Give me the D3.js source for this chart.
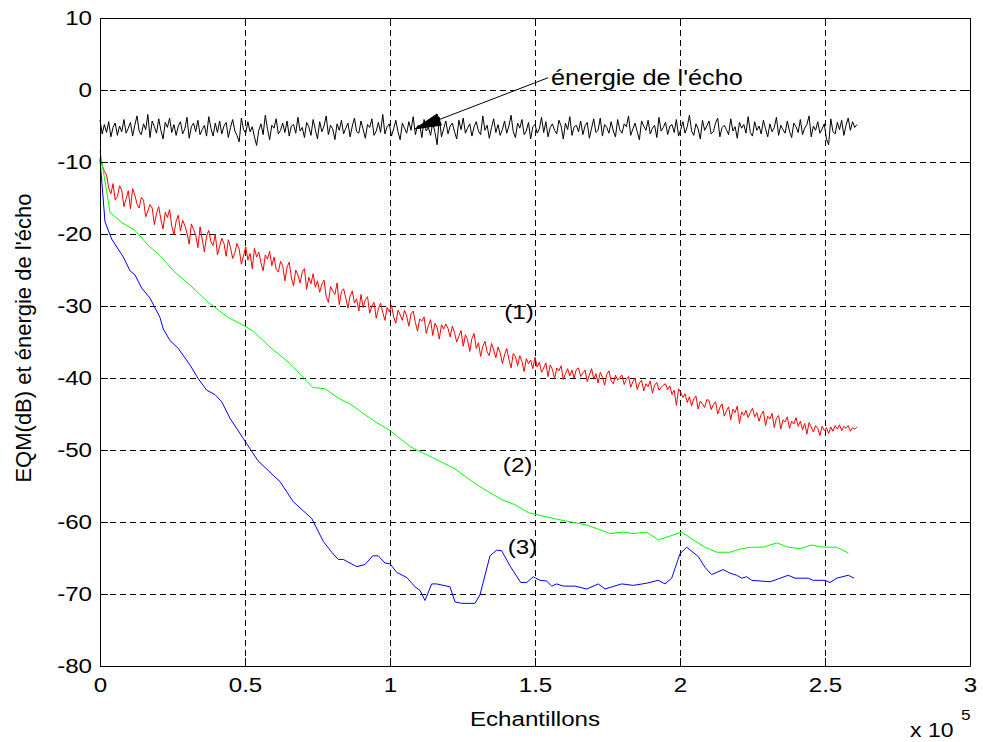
<!DOCTYPE html>
<html>
<head>
<meta charset="utf-8">
<script src="https://cdn.jsdelivr.net/npm/d3@7"></script>
<style>
  html, body { margin: 0; padding: 0; background: #fff; }
  svg text { font-family: "Liberation Sans", Arial, sans-serif; fill: #000; }
</style>
</head>
<body>
<svg id="chart" width="983" height="742"></svg>
<script>
// ---- axes ----
const xTickVals = [0, 50000, 100000, 150000, 200000, 250000, 300000];
const xTickLabels = ['0', '0.5', '1', '1.5', '2', '2.5', '3'];
const yTickVals = [10, 0, -10, -20, -30, -40, -50, -60, -70, -80];
const yTickLabels = ['10', '0', '-10', '-20', '-30', '-40', '-50', '-60', '-70', '-80'];

// ---- echo energy (black), one value every noiseStep samples ----
const noiseStep = 750;
const echoEnergy = [
  -4.2,-6.1,-4.8,-5.9,-4.4,-6.5,-5.2,-4.6,-6.3,-5.0,-5.8,-4.1,-6.0,-5.3,-4.5,-6.4,-4.9,-3.6,-5.7,-6.2,
  -4.7,-5.5,-3.4,-6.6,-4.3,-5.1,-6.0,-4.0,-5.6,-6.8,-4.5,-5.2,-3.9,-5.9,-4.8,-6.3,-5.0,-4.4,-6.1,-5.4,
  -3.8,-6.7,-5.1,-4.6,-5.8,-4.2,-6.2,-5.5,-4.9,-6.4,-3.7,-5.3,-6.4,-4.6,-5.9,-4.3,-6.1,-5.0,-4.5,-6.6,
  -5.2,-4.1,-5.7,-6.3,-7.2,-3.9,-5.5,-6.0,-4.4,-5.8,-5.1,-6.5,-7.7,-5.6,-4.7,-6.2,-3.5,-5.4,-6.9,-4.9,
  -5.3,-4.0,-6.1,-5.6,-4.6,-5.9,-4.3,-6.4,-5.0,-4.8,-6.0,-3.8,-5.7,-5.2,-6.6,-4.5,-5.1,-6.3,-4.1,-5.5,
  -6.8,-4.4,-5.8,-5.0,-3.6,-6.2,-4.9,-5.4,-6.9,-4.7,-5.6,-4.2,-6.1,-5.3,-4.6,-6.5,-5.0,-3.9,-5.8,-6.0,
  -4.3,-5.5,-6.7,-4.8,-5.2,-4.0,-6.3,-5.7,-4.5,-5.9,-3.4,-6.1,-5.1,-4.7,-6.4,-5.4,-4.2,-5.8,-6.9,-4.6,
  -5.3,-6.0,-4.4,-5.6,-3.7,-6.2,-5.0,-4.9,-6.6,-4.1,-5.7,-5.2,-6.3,-4.5,-5.9,-7.6,-3.8,-6.5,-5.4,-4.3,
  -6.1,-5.0,-4.6,-5.8,-6.8,-4.2,-5.5,-3.9,-6.0,-5.3,-4.7,-6.4,-5.1,-4.4,-5.7,-6.2,-3.6,-5.6,-4.9,-6.7,
  -5.2,-4.0,-5.9,-4.8,-6.3,-5.5,-4.3,-6.0,-5.0,-3.5,-5.8,-6.6,-4.6,-5.3,-4.1,-6.2,-5.7,-4.5,-6.8,-5.1,
  -4.8,-6.0,-5.4,-3.8,-5.9,-4.4,-6.5,-5.2,-4.7,-5.6,-6.1,-4.2,-5.0,-6.8,-4.6,-5.5,-3.7,-6.3,-5.1,-4.9,
  -5.8,-4.3,-6.2,-5.0,-4.5,-6.7,-5.3,-4.0,-5.9,-5.6,-3.9,-6.4,-4.8,-5.2,-6.0,-4.4,-5.7,-6.5,-4.1,-5.5,
  -6.0,-4.7,-5.1,-3.6,-6.3,-5.4,-4.6,-5.8,-6.9,-4.3,-5.0,-5.6,-4.2,-6.1,-5.3,-4.9,-6.6,-3.8,-5.7,-5.2,
  -4.5,-6.2,-5.0,-4.8,-5.9,-4.1,-6.4,-5.5,-4.4,-6.0,-5.1,-3.5,-5.7,-6.3,-4.7,-5.4,-6.8,-4.2,-5.6,-5.0,
  -4.3,-6.1,-5.8,-4.6,-3.9,-6.5,-5.2,-4.9,-5.5,-6.2,-4.0,-5.7,-5.1,-6.7,-4.5,-5.3,-4.8,-6.0,-3.7,-5.9,
  -6.4,-4.4,-5.6,-5.0,-6.1,-4.2,-5.4,-6.5,-4.7,-5.8,-5.2,-3.8,-6.3,-4.9,-5.5,-6.0,-4.3,-5.7,-6.6,-4.6,
  -5.1,-5.9,-4.1,-6.2,-5.3,-4.8,-3.6,-6.5,-5.0,-5.6,-4.4,-6.0,-5.4,-4.7,-6.8,-7.6,-4.0,-5.8,-6.1,-4.5,
  -5.5,-4.2,-6.3,-4.9,-3.9,-5.6,-4.4,-5.2,-4.8
];

// ---- MSE of algorithm (1) (red), same sampling ----
const mse1 = [
  -9.4,-10.5,-11.3,-11.8,-13.6,-14.4,-13.0,-15.3,-14.8,-13.3,-13.9,-16.2,-15.1,-14.0,-16.5,-13.7,-14.6,-15.8,-16.4,-14.9,
  -15.3,-17.6,-16.8,-15.9,-16.4,-18.7,-17.1,-16.2,-18.0,-19.3,-17.0,-17.7,-16.6,-18.9,-20.1,-18.2,-17.4,-19.6,-18.1,-18.8,
  -19.9,-21.4,-18.6,-19.4,-20.1,-21.9,-19.0,-20.7,-22.5,-20.3,-19.5,-21.1,-21.6,-20.0,-22.9,-21.7,-20.6,-21.3,-23.1,-20.8,
  -21.9,-23.4,-22.6,-21.3,-22.1,-24.2,-23.0,-21.8,-23.6,-22.7,-24.8,-22.0,-23.2,-22.5,-24.0,-25.1,-22.9,-23.5,-22.4,-24.4,
  -23.2,-24.9,-25.3,-23.8,-24.4,-26.5,-24.6,-23.9,-26.1,-27.2,-25.0,-25.7,-26.8,-25.3,-24.8,-27.7,-26.0,-26.9,-25.5,-27.4,
  -26.5,-28.1,-27.0,-26.4,-28.7,-29.5,-27.3,-27.9,-28.4,-26.8,-29.8,-28.0,-27.6,-28.9,-30.3,-28.6,-27.9,-29.6,-29.0,-30.7,
  -28.4,-30.2,-29.1,-28.7,-31.0,-30.0,-29.5,-31.7,-30.4,-29.6,-30.9,-32.0,-30.2,-30.8,-29.9,-31.5,-32.4,-30.6,-31.2,-32.0,
  -30.6,-31.4,-32.8,-31.1,-30.7,-32.3,-33.5,-31.8,-32.1,-31.5,-33.8,-32.7,-31.9,-34.1,-32.4,-33.0,-34.6,-32.6,-33.2,-32.5,
  -33.1,-34.3,-32.8,-33.7,-35.0,-34.2,-33.4,-35.6,-34.0,-34.7,-36.3,-34.5,-33.8,-35.9,-35.1,-37.0,-35.6,-34.9,-36.4,-36.9,
  -35.2,-36.1,-37.2,-35.7,-36.5,-38.0,-36.8,-35.9,-37.4,-38.6,-36.6,-37.0,-38.3,-36.9,-37.7,-39.1,-37.3,-38.0,-37.5,-38.7,
  -37.1,-38.5,-37.8,-39.2,-38.6,-37.9,-39.8,-38.2,-38.8,-40.1,-38.6,-39.0,-38.3,-40.2,-39.4,-38.7,-39.7,-38.9,-40.0,-38.8,
  -38.6,-39.8,-39.3,-38.9,-40.5,-39.6,-38.7,-40.1,-39.4,-40.7,-39.2,-39.9,-41.0,-39.5,-39.0,-40.4,-40.8,-39.6,-40.3,-39.9,
  -39.6,-40.9,-40.2,-39.8,-41.3,-40.5,-40.0,-41.6,-40.7,-40.3,-41.8,-40.8,-41.2,-40.4,-42.1,-41.0,-40.6,-41.7,-41.3,-41.0,
  -40.8,-41.6,-41.1,-42.3,-41.7,-43.8,-41.5,-42.0,-42.7,-42.2,-43.4,-42.6,-43.9,-42.9,-42.5,-44.3,-43.2,-43.6,-44.1,-43.0,
  -43.1,-44.4,-43.7,-43.3,-45.0,-44.1,-43.6,-45.3,-44.6,-44.0,-45.8,-44.3,-44.8,-43.9,-46.3,-44.7,-45.2,-44.5,-45.5,-44.8,
  -44.2,-45.4,-44.8,-46.0,-45.1,-44.6,-46.6,-45.3,-45.7,-44.9,-46.9,-45.6,-45.2,-47.1,-45.8,-46.1,-45.4,-47.0,-46.0,-46.4,
  -45.5,-46.7,-46.0,-47.2,-46.3,-47.8,-46.2,-46.8,-47.5,-46.6,-47.0,-48.0,-46.7,-47.3,-46.9,-47.7,-46.8,-47.4,-46.6,-47.1,
  -46.5,-47.3,-46.7,-47.0,-46.6,-47.4,-46.9,-47.1,-46.8
];

// ---- MSE of algorithm (2) (green) ----
const mse2X = [0,3450,7480,12070,16660,20690,25280,31030,37340,44240,50000,52860,58620,65520,73340,77590,82170,86210,
  94240,100000,103450,107240,122410,127000,131030,138520,143100,147690,155170,159760,167830,175860,180450,183900,
  188520,192520,200590,204590,208620,212660,217240,221280,224720,228720,233340,237340,241380,245410,249410,254030,258030];
const mse2Y = [-8.4,-17.0,-18.4,-19.5,-21.6,-23.0,-25.1,-27.1,-29.5,-31.6,-32.8,-33.5,-35.7,-38.0,-41.3,-41.5,-42.8,-43.6,
  -45.9,-47.3,-48.4,-49.6,-52.6,-54.0,-55.1,-56.9,-57.6,-58.7,-59.4,-59.8,-60.4,-61.6,-61.4,-61.6,
  -61.4,-62.5,-61.4,-62.5,-63.5,-64.2,-64.2,-63.7,-63.5,-63.5,-62.9,-63.5,-63.7,-63.2,-63.5,-63.5,-64.3];

// ---- MSE of algorithm (3) (blue) ----
const mse3X = [0,1720,4030,8030,10340,12070,14380,17240,20690,21830,24140,27000,31030,33900,36790,39660,41970,44830,
  49410,54480,62070,66660,73000,77000,79900,82170,83900,88520,91380,94030,95970,98280,100000,102310,105760,108620,
  110340,112070,114380,116100,120690,122410,124720,129310,131030,134480,136790,138520,141380,145070,147140,149410,
  151720,154000,155760,157480,159760,163790,167830,171830,174140,179900,183900,188520,192520,194830,197140,200000,
  202310,206310,208620,210900,214900,217240,219550,221280,223000,224720,231030,233900,237340,239660,244240,245930,
  250000,251720,254030,258030,260000];
const mse3Y = [-9.6,-18.3,-20.7,-23.2,-25.1,-25.7,-27.5,-28.9,-31.6,-33.2,-34.8,-35.9,-38.2,-40.1,-41.7,-42.3,-43.3,-45.6,
  -48.4,-51.5,-54.4,-57.2,-59.5,-62.7,-64.2,-65.2,-65.2,-66.2,-65.9,-64.7,-64.7,-65.7,-65.8,-67.0,-67.7,-69.0,
  -69.5,-70.9,-68.6,-68.6,-69.0,-71.1,-71.3,-71.3,-70.1,-64.7,-63.9,-64.0,-66.1,-68.4,-68.4,-67.6,
  -68.1,-68.2,-68.9,-68.6,-68.9,-68.9,-69.3,-68.6,-69.3,-68.6,-68.8,-68.5,-68.1,-68.6,-67.8,-64.4,
  -63.5,-64.8,-66.3,-67.3,-66.6,-67.1,-67.4,-67.8,-67.6,-68.1,-68.3,-67.9,-67.4,-67.8,-67.8,-68.1,
  -68.1,-68.4,-67.8,-67.4,-67.8];

// ---- text annotations (data coordinates) ----
const curveLabels = ['(1)', '(2)', '(3)'];
const curveLabelX = [144500, 144000, 145700];
const curveLabelY = [-30.8, -52.0, -63.4];
const echoLabel = "énergie de l'écho";
const echoArrowFrom = [154500, 1.7];
const echoArrowTo = [108600, -5.4];

// ---- layout ----
const svg = d3.select('#chart');
const margin = { left: 100, top: 18, right: 13, bottom: 76 };
const W = 983 - margin.left - margin.right;
const H = 742 - margin.top - margin.bottom;
const FS = 21;          // font size
const SX = 1.15;        // horizontal widening of the glyphs

svg.append('rect').attr('width', 983).attr('height', 742).attr('fill', '#fff');

const x = d3.scaleLinear().domain([0, 300000]).range([0, W]);
const y = d3.scaleLinear().domain([-80, 10]).range([H, 0]);

const g = svg.append('g').attr('transform', `translate(${margin.left},${margin.top})`);

// dashed grid
const gridX = g.append('g').attr('transform', `translate(0,${H})`)
  .call(d3.axisBottom(x).tickValues(xTickVals).tickSize(-H).tickFormat(''));
const gridY = g.append('g')
  .call(d3.axisLeft(y).tickValues(yTickVals).tickSize(-W).tickFormat(''));
[gridX, gridY].forEach(gr => {
  gr.select('.domain').remove();
  gr.selectAll('line').attr('stroke', '#000').attr('stroke-width', 1)
    .attr('stroke-dasharray', '6,4');
});

// series
const lineIdx = d3.line().x((d, i) => x(i * noiseStep)).y(d => y(d));
const lineXY = (xs) => d3.line().x((d, i) => x(xs[i])).y(d => y(d));

g.append('path').datum(echoEnergy).attr('d', lineIdx)
  .attr('fill', 'none').attr('stroke', '#000').attr('stroke-width', 1);
g.append('path').datum(mse1).attr('d', lineIdx)
  .attr('fill', 'none').attr('stroke', '#ff0000').attr('stroke-width', 1);
g.append('path').datum(mse2Y).attr('d', lineXY(mse2X))
  .attr('fill', 'none').attr('stroke', '#00ff00').attr('stroke-width', 1);
g.append('path').datum(mse3Y).attr('d', lineXY(mse3X))
  .attr('fill', 'none').attr('stroke', '#0000ff').attr('stroke-width', 1);

// box with inward ticks on all sides
const tick = 8;
const axB = g.append('g').attr('transform', `translate(0,${H})`)
  .call(d3.axisBottom(x).tickValues(xTickVals).tickSizeInner(-tick).tickSizeOuter(0)
    .tickPadding(11).tickFormat((d, i) => xTickLabels[i]));
const axT = g.append('g')
  .call(d3.axisTop(x).tickValues(xTickVals).tickSizeInner(-tick).tickSizeOuter(0).tickFormat(''));
const axL = g.append('g')
  .call(d3.axisLeft(y).tickValues(yTickVals).tickSizeInner(-tick).tickSizeOuter(0)
    .tickPadding(8).tickFormat((d, i) => yTickLabels[i]));
const axR = g.append('g').attr('transform', `translate(${W},0)`)
  .call(d3.axisRight(y).tickValues(yTickVals).tickSizeInner(-tick).tickSizeOuter(0).tickFormat(''));
[axB, axT, axL, axR].forEach(a => {
  a.select('.domain').attr('stroke', '#000').attr('stroke-width', 1);
  a.selectAll('.tick line').attr('stroke', '#000');
  a.selectAll('text').attr('font-size', FS).attr('font-family', '"Liberation Sans", Arial, sans-serif')
    .attr('fill', '#000');
});
axB.selectAll('.tick text').attr('transform', `scale(${SX},1)`);
axL.selectAll('.tick text').each(function () {
  const t = d3.select(this);
  t.attr('x', +t.attr('x') / SX).attr('transform', `scale(${SX},1)`);
});

// helper: horizontal text placed at pixel position
function putText(parent, px, py, str, anchor, size) {
  return parent.append('g').attr('transform', `translate(${px},${py}) scale(${SX},1)`)
    .append('text').attr('text-anchor', anchor).attr('font-size', size || FS).text(str);
}

// curve labels
curveLabels.forEach((s, i) => {
  putText(g, x(curveLabelX[i]), y(curveLabelY[i]), s, 'middle').attr('dy', '0.35em');
});

// echo energy annotation with arrow
const p0 = [x(echoArrowFrom[0]), y(echoArrowFrom[1])];
const p1 = [x(echoArrowTo[0]), y(echoArrowTo[1])];
const dx = p0[0] - p1[0], dy = p0[1] - p1[1];
const len = Math.hypot(dx, dy);
const ux = dx / len, uy = dy / len;
const headL = 26, headW = 6;
const bx = p1[0] + ux * headL, by = p1[1] + uy * headL;
g.append('line').attr('x1', p0[0]).attr('y1', p0[1]).attr('x2', bx).attr('y2', by)
  .attr('stroke', '#000').attr('stroke-width', 1);
g.append('path')
  .attr('d', `M${p1[0]},${p1[1]}L${bx - uy * headW},${by + ux * headW}L${bx + uy * headW},${by - ux * headW}Z`)
  .attr('fill', '#000').attr('stroke', '#000').attr('stroke-width', 1);
putText(g, p0[0] + 3, p0[1] + 7, echoLabel, 'start', 22);

// axis titles
putText(svg, margin.left + W / 2, 726, 'Echantillons', 'middle');
putText(svg, 910, 737, 'x 10', 'start', 20);
putText(svg, 961, 720, '5', 'start', 15);
svg.append('text')
  .attr('transform', `translate(31,${margin.top + H / 2 - 4}) rotate(-90)`)
  .attr('text-anchor', 'middle').attr('font-size', 22)
  .text("EQM(dB) et énergie de l'écho");
</script>
</body>
</html>
